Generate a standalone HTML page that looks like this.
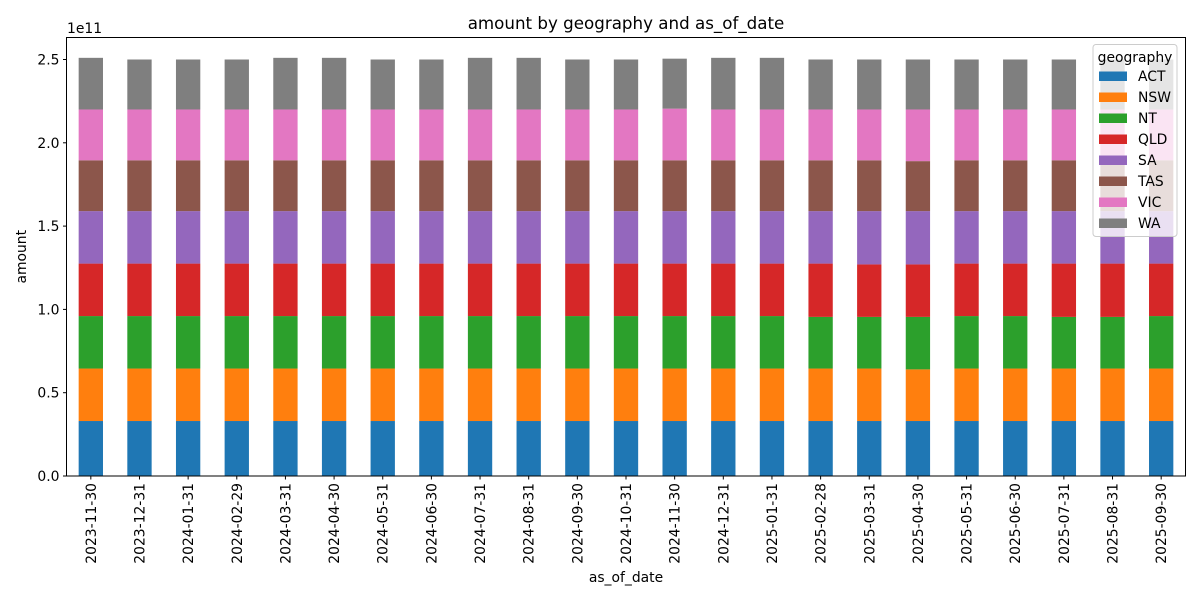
<!DOCTYPE html>
<html><head><meta charset="utf-8"><style>
body{margin:0;background:#fff;font-family:"Liberation Sans","DejaVu Sans",sans-serif}
svg text{font-family:"DejaVu Sans","Liberation Sans",sans-serif}
</style></head><body>
<svg id="c" width="1200" height="600" xmlns="http://www.w3.org/2000/svg"></svg>
<script>
const dates=["2023-11-30","2023-12-31","2024-01-31","2024-02-29","2024-03-31","2024-04-30","2024-05-31","2024-06-30","2024-07-31","2024-08-31","2024-09-30","2024-10-31","2024-11-30","2024-12-31","2025-01-31","2025-02-28","2025-03-31","2025-04-30","2025-05-31","2025-06-30","2025-07-31","2025-08-31","2025-09-30"];
const seriesNames=["ACT","NSW","NT","QLD","SA","TAS","VIC","WA"];
const colors=["#1f77b4","#ff7f0e","#2ca02c","#d62728","#9467bd","#8c564b","#e377c2","#7f7f7f"];
const ACT=[0.33,0.33,0.33,0.33,0.33,0.33,0.33,0.33,0.33,0.33,0.33,0.33,0.33,0.33,0.33,0.33,0.33,0.33,0.33,0.33,0.33,0.33,0.33];
const NSW=[0.315,0.315,0.315,0.315,0.315,0.315,0.315,0.315,0.315,0.315,0.315,0.315,0.315,0.315,0.315,0.315,0.315,0.31,0.315,0.315,0.315,0.315,0.315];
const NT=[0.315,0.315,0.315,0.315,0.315,0.315,0.315,0.315,0.315,0.315,0.315,0.315,0.315,0.315,0.315,0.31,0.31,0.315,0.315,0.315,0.31,0.31,0.315];
const QLD=[0.315,0.315,0.315,0.315,0.315,0.315,0.315,0.315,0.315,0.315,0.315,0.315,0.315,0.315,0.315,0.32,0.315,0.315,0.315,0.315,0.32,0.32,0.315];
const SA=[0.315,0.315,0.315,0.315,0.315,0.315,0.315,0.315,0.315,0.315,0.315,0.315,0.315,0.315,0.315,0.315,0.32,0.32,0.315,0.315,0.315,0.315,0.315];
const TAS=[0.305,0.305,0.305,0.305,0.305,0.305,0.305,0.305,0.305,0.305,0.305,0.305,0.305,0.305,0.305,0.305,0.305,0.30,0.305,0.305,0.305,0.305,0.305];
const VIC=[0.305,0.305,0.305,0.305,0.305,0.305,0.305,0.305,0.305,0.305,0.305,0.305,0.31,0.305,0.305,0.305,0.305,0.31,0.305,0.305,0.305,0.305,0.305];
const WA=[0.31,0.30,0.30,0.30,0.31,0.31,0.30,0.30,0.31,0.31,0.30,0.30,0.30,0.31,0.31,0.30,0.30,0.30,0.30,0.30,0.30,0.30,0.30];
const series=[ACT,NSW,NT,QLD,SA,TAS,VIC,WA];
const yTicks=[0,0.5,1.0,1.5,2.0,2.5];
const yTickLabels=["0.0","0.5","1.0","1.5","2.0","2.5"];

const L=66.5,R=1185.5,T=37.5,B=476;
const y0=476, pxPerUnit=166.6;
const y=v=>y0-v*pxPerUnit;
const step=(R-L)/dates.length;
const x=i=>L+step*(i+0.5);
const bw=step*0.5;
const FS=13.9;
const svg=document.getElementById('c');
const NS="http://www.w3.org/2000/svg";
function mk(tag,attrs,parent){const e=document.createElementNS(NS,tag);for(const k in attrs)e.setAttribute(k,attrs[k]);(parent||svg).appendChild(e);return e;}

const bars=mk('g',{});


dates.forEach((d,i)=>{
  let acc=0;
  series.forEach((s,j)=>{
    const r=mk('rect',{x:x(i)-bw/2,y:y(acc+s[i]),width:bw,height:y(acc)-y(acc+s[i]),fill:colors[j]},bars);
    
    
    acc+=s[i];
  });
});
const frame=mk('rect',{x:L,y:T,width:R-L,height:B-T,fill:'none',stroke:'#000','stroke-width':1});



yTicks.forEach((v,k)=>{
  mk('line',{x1:L-3.5,x2:L,y1:y(v),y2:y(v),stroke:'#000'});
  const t=mk('text',{x:L-7,y:y(v)+5,'text-anchor':'end','font-size':FS});
  t.textContent=yTickLabels[k];
  
  
});
dates.forEach((d,i)=>{
  mk('line',{x1:x(i),x2:x(i),y1:B,y2:B+3.5,stroke:'#000'});
  const t=mk('text',{x:0,y:0,'text-anchor':'end','font-size':FS,transform:`translate(${x(i)+5},${B+7}) rotate(-90)`});
  t.textContent=d;
  
  
});
const off=mk('text',{x:67,y:33,'font-size':FS});off.textContent='1e11';

const title=mk('text',{x:(L+R)/2,y:29,'text-anchor':'middle','font-size':16.7});title.textContent='amount by geography and as_of_date';

const xt=mk('text',{x:(L+R)/2,y:582,'text-anchor':'middle','font-size':FS});xt.textContent='as_of_date';

const yt=mk('text',{x:0,y:0,'text-anchor':'middle','font-size':FS,transform:`translate(26,${(T+B)/2}) rotate(-90)`});yt.textContent='amount';


const lg=mk('g',{});


mk('rect',{x:1093,y:44.5,width:84,height:192,rx:3,fill:'#fff','fill-opacity':0.8,stroke:'#ccc'},lg);
const lt=mk('text',{x:1135,y:62,'text-anchor':'middle','font-size':FS},lg);lt.textContent='geography';
seriesNames.forEach((n,j)=>{
  const yy=76+j*21;
  const e=mk('g',{},lg);
  
  
  mk('rect',{x:1099,y:yy-4.5,width:28,height:9.5,fill:colors[j]},e);
  const t=mk('text',{x:1138,y:yy+5,'font-size':FS},e);t.textContent=n;
});
</script>
</body></html>
